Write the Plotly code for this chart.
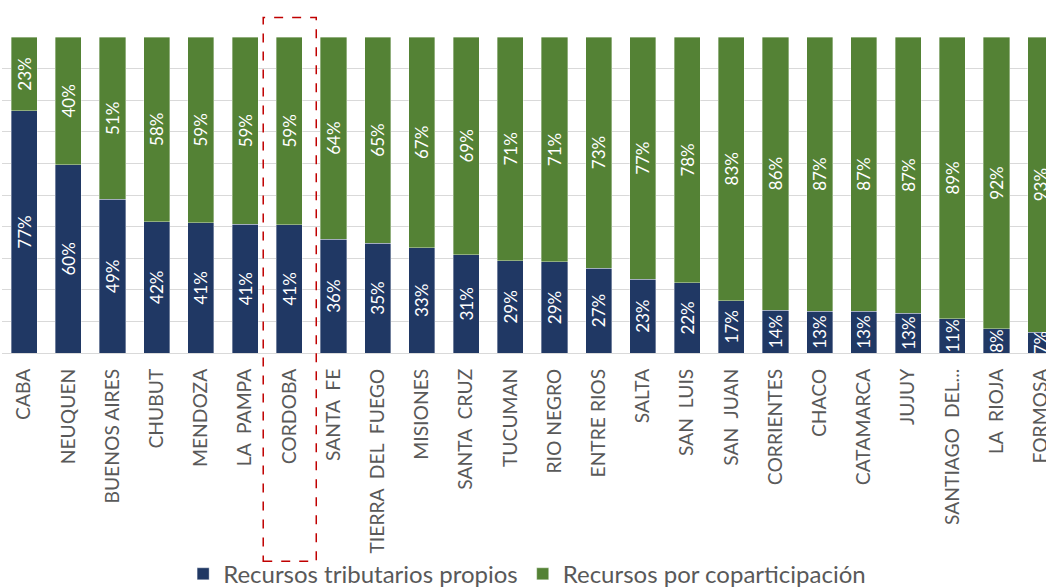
import plotly.graph_objects as go

categories = ["CABA", "NEUQUEN", "BUENOS AIRES", "CHUBUT", "MENDOZA", "LA\u00a0 PAMPA",
              "CORDOBA", "SANTA\u00a0 FE", "TIERRA\u00a0 DEL\u00a0 FUEGO", "MISIONES", "SANTA\u00a0 CRUZ",
              "TUCUMAN", "RIO NEGRO", "ENTRE RIOS", "SALTA", "SAN\u00a0 LUIS", "SAN\u00a0 JUAN",
              "CORRIENTES", "CHACO", "CATAMARCA", "JUJUY", "SANTIAGO\u00a0 DEL...", "LA\u00a0 RIOJA", "FORMOSA"]
propios = [76.6, 59.6, 48.6, 41.6, 41.2, 40.7, 40.6, 36.0, 34.8, 33.3, 31.1, 29.2,
           28.8, 26.9, 23.3, 22.2, 16.6, 13.6, 13.2, 13.2, 12.6, 10.8, 7.6, 6.6]
coparticipacion = [23.4, 40.4, 51.4, 58.4, 58.8, 59.3, 59.4, 64.0, 65.2, 66.7, 68.9, 70.8,
                   71.2, 73.1, 76.7, 77.8, 83.4, 86.4, 86.8, 86.8, 87.4, 89.2, 92.4, 93.4]
series_names = ["Recursos tributarios propios", "Recursos por coparticipación"]
highlight = "CORDOBA"

BLUE = "#203864"
GREEN = "#548235"
FONT = "Lato"

x_idx = list(range(len(categories)))

fig = go.Figure()
for name, vals, col in [(series_names[0], propios, BLUE), (series_names[1], coparticipacion, GREEN)]:
    fig.add_trace(go.Bar(
        x=x_idx, y=vals, name=name,
        marker=dict(color=col, line=dict(color="rgba(255,255,255,0.45)", width=0.8)),
        text=[f"{round(v)}%" for v in vals],
        textposition="inside", insidetextanchor="middle", textangle=-90,
        textfont=dict(family=FONT, size=17, color="white"),
        hoverinfo="skip",
    ))

hi = categories.index(highlight)
fig.add_shape(type="rect", xref="x", yref="paper",
              x0=hi - 0.59, x1=hi + 0.61, y0=-0.659, y1=1.062,
              line=dict(color="#C00000", width=1.5, dash="dash"))

fig.update_layout(
    barmode="stack", bargap=0.41,
    width=1046, height=587,
    margin=dict(l=2, r=0, t=36.7, b=233.7, autoexpand=False),
    paper_bgcolor="white", plot_bgcolor="white",
    uniformtext=dict(minsize=17, mode="show"),
    showlegend=True,
    legend=dict(orientation="h", x=0.503, xanchor="center", y=-0.70, yanchor="middle",
                font=dict(family=FONT, size=24, color="#595959"), traceorder="normal",
                itemwidth=30, bgcolor="rgba(0,0,0,0)"),
    font=dict(family=FONT),
)
fig.update_xaxes(
    range=[-0.5, 23.12], tickmode="array", tickvals=x_idx, ticktext=categories,
    tickangle=-90, tickfont=dict(family=FONT, size=19.3, color="#595959"),
    showline=True, linecolor="#D9D9D9", linewidth=1, showgrid=False,
    ticks="", ticklabelstandoff=7, automargin=False, ticklabeloverflow="allow",
)
fig.update_yaxes(
    range=[0, 100], dtick=10, showticklabels=False, showgrid=True,
    gridcolor="#D9D9D9", gridwidth=1, zeroline=False, automargin=False,
)
fig.write_html("out.html", config={"displayModeBar": False},
               post_script="document.body.style.margin='0';document.body.style.overflow='hidden';")
